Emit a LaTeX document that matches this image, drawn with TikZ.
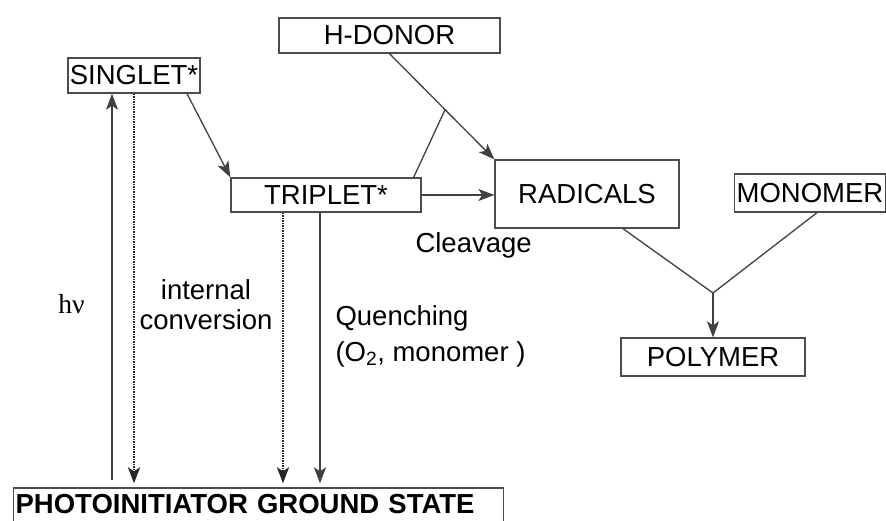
\documentclass[tikz,border=0pt]{standalone}
\usepackage{fontspec}
\setmainfont{Liberation Sans}
\newfontfamily\hvfont{Liberation Serif}
\usetikzlibrary{arrows.meta}

\begin{document}
\begin{tikzpicture}[x=1pt, y=-1pt,
    every node/.style={font=\fontsize{27.5}{31}\selectfont},
    box/.style={draw=black!70, line width=1.3pt, inner sep=0pt},
    link/.style={draw=black!75, line width=1.3pt},
    arr/.style={link, -{Stealth[length=16pt, width=12pt, inset=4pt]}},
    dots/.style={arr, draw=black!85, dash pattern=on 1.6pt off 0.9pt, line width=2.4pt}]
            \clip (0,0) rectangle (886,521);

            % Nodes
            \node[box, minimum width=132, minimum height=35] (singlet) at (134,75.5) {SINGLET*};
            \node[box, minimum width=221, minimum height=35] (hdonor) at (389.5,35.5) {H-DONOR};
            \node[box, minimum width=190, minimum height=34] (triplet) at (326,195) {TRIPLET*};
            \node[box, minimum width=184, minimum height=68] (radicals) at (587,194) {RADICALS};
            \node[box, minimum width=151, minimum height=38] (monomer) at (810,193) {MONOMER};
            \node[box, minimum width=184, minimum height=38] (polymer) at (713,357) {POLYMER};
            \node[box, anchor=base west, inner xsep=2pt, inner ysep=5pt, text width=486pt, align=left,
                  text height=20pt, text depth=20pt, font=\fontsize{27.5}{31}\selectfont\bfseries] (ground) at (13,513) {PHOTOINITIATOR GROUND STATE};

            % Labels
            \node[anchor=base, font=\hvfont\fontsize{27.5}{31}\selectfont] (hv) at (71.5,313) {hν};
            \node[anchor=base, align=center] (conv) at (206,330) {internal\\conversion};
            \node[anchor=base west, align=left] (quench) at (332,361) {Quenching\\[5pt](O\textsubscript{2}, monomer )};
            \node[anchor=base west] (cleave) at (412,253) {Cleavage};

            % Lines
            \coordinate (hvfoot) at (112,480);
            \coordinate (join) at (713,293);
            \draw[arr] (hvfoot) -- (hvfoot |- singlet.south);
            \draw[dots, shorten >=4pt] (singlet.south) -- (singlet.south |- ground.north);
            \draw[arr] ([xshift=53]singlet.south) -- (triplet.north west);
            \draw[dots, shorten >=4pt] ([xshift=-43]triplet.south) -- ([xshift=-43]triplet.south |- ground.north);
            \draw[arr, shorten >=4pt] ([xshift=-6]triplet.south) -- ([xshift=-6]triplet.south |- ground.north);
            \draw[arr] (triplet.east) -- (triplet.east -| radicals.west);
            \draw[arr] (hdonor.south) -- coordinate[pos=0.53] (hjoin) (radicals.north west);
            \draw[link] ([xshift=-8]triplet.north east) -- (hjoin);
            \draw[link] ([xshift=36]radicals.south) -- (join) -- ([xshift=7]monomer.south);
            \draw[arr] (join) -- (polymer.north);
        \end{tikzpicture}
\end{document}
